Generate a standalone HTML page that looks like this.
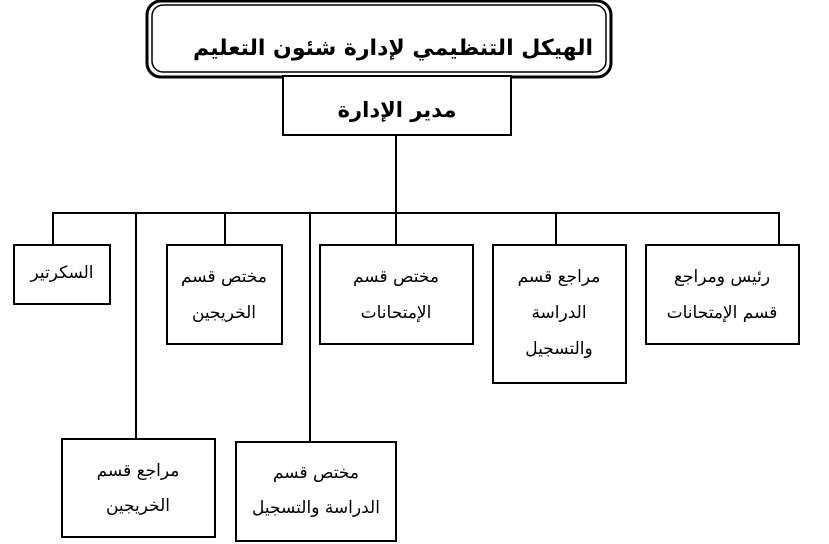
<!DOCTYPE html>
<html><head><meta charset="utf-8"><style>
html,body{margin:0;padding:0;background:#fff;}
svg{display:block;}
text{font-family:"DejaVu Sans","Liberation Sans",sans-serif;fill:#000;}
</style></head><body>
<svg width="829" height="544" viewBox="0 0 829 544" xmlns="http://www.w3.org/2000/svg">
<rect x="147" y="1" width="464" height="76" rx="14" fill="#fff" stroke="#000" stroke-width="3"/>
<rect x="152" y="5" width="454" height="67" rx="11" fill="none" stroke="#000" stroke-width="1.5"/>
<text x="393" y="55" text-anchor="middle" font-size="22" font-weight="bold" direction="rtl">الهيكل التنظيمي لإدارة شئون التعليم</text>
<rect x="283" y="76" width="228" height="59" fill="#fff" stroke="#000" stroke-width="2"/>
<text x="397" y="117" text-anchor="middle" font-size="21" font-weight="bold" direction="rtl">مدير الإدارة</text>
<g stroke="#000" stroke-width="2" fill="none">
<line x1="396" y1="135" x2="396" y2="245"/>
<line x1="53" y1="213" x2="779" y2="213"/>
<line x1="53" y1="212" x2="53" y2="245"/>
<line x1="136" y1="212" x2="136" y2="439"/>
<line x1="225" y1="212" x2="225" y2="245"/>
<line x1="310" y1="212" x2="310" y2="442"/>
<line x1="556" y1="212" x2="556" y2="245"/>
<line x1="779" y1="212" x2="779" y2="245"/>
<rect x="646" y="245" width="153" height="99"/>
<rect x="493" y="245" width="133" height="138"/>
<rect x="320" y="245" width="153" height="99"/>
<rect x="167" y="245" width="115" height="99"/>
<rect x="14" y="245" width="96" height="59"/>
<rect x="62" y="439" width="153" height="98"/>
<rect x="236" y="442" width="160" height="99"/>
</g>
<g font-size="17" text-anchor="middle" direction="rtl">
<text x="722" y="282">رئيس ومراجع</text>
<text x="722" y="318">قسم الإمتحانات</text>
<text x="559" y="282">مراجع قسم</text>
<text x="559" y="318">الدراسة</text>
<text x="559" y="354">والتسجيل</text>
<text x="396" y="282">مختص قسم</text>
<text x="396" y="318">الإمتحانات</text>
<text x="224" y="282">مختص قسم</text>
<text x="224" y="318">الخريجين</text>
<text x="62" y="278">السكرتير</text>
<text x="138" y="476">مراجع قسم</text>
<text x="138" y="511">الخريجين</text>
<text x="316" y="478">مختص قسم</text>
<text x="316" y="513">الدراسة والتسجيل</text>
</g>
</svg>
</body></html>
